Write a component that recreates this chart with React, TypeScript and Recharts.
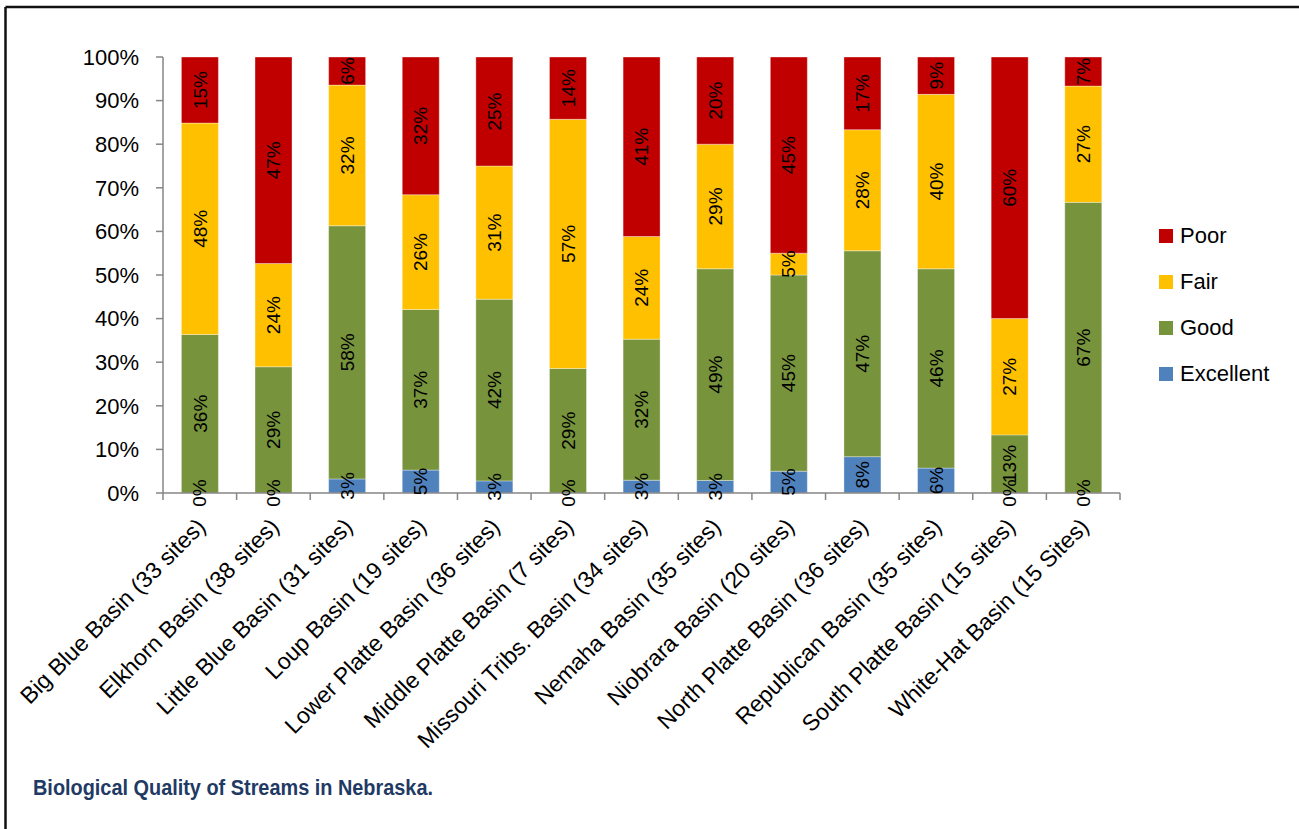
import React from 'react';
import { BarChart, Bar, XAxis, YAxis, Legend, LabelList } from 'recharts';

const categories = [
  'Big Blue Basin (33 sites)',
  'Elkhorn Basin (38 sites)',
  'Little Blue Basin (31 sites)',
  'Loup Basin (19 sites)',
  'Lower Platte Basin (36 sites)',
  'Middle Platte Basin (7 sites)',
  'Missouri Tribs. Basin (34 sites)',
  'Nemaha Basin (35 sites)',
  'Niobrara Basin (20 sites)',
  'North Platte Basin (36 sites)',
  'Republican Basin (35 sites)',
  'South Platte Basin (15 sites)',
  'White-Hat Basin (15 Sites)',
];

const excellent = [0, 0, 3.23, 5.26, 2.78, 0, 2.94, 2.86, 5, 8.33, 5.71, 0, 0];
const good = [36.36, 28.95, 58.06, 36.84, 41.67, 28.57, 32.35, 48.57, 45, 47.22, 45.71, 13.33, 66.67];
const fair = [48.48, 23.68, 32.26, 26.32, 30.56, 57.14, 23.53, 28.57, 5, 27.78, 40, 26.67, 26.67];
const poor = [15.15, 47.37, 6.45, 31.58, 25, 14.29, 41.18, 20, 45, 16.67, 8.57, 60, 6.67];

const yTicks = [0, 0.1, 0.2, 0.3, 0.4, 0.5, 0.6, 0.7, 0.8, 0.9, 1];

const seriesNames = ['Excellent', 'Good', 'Fair', 'Poor'];
const seriesValues: Record<string, number[]> = { Excellent: excellent, Good: good, Fair: fair, Poor: poor };
const seriesColors: Record<string, string> = {
  Excellent: '#4F81BD',
  Good: '#77933C',
  Fair: '#FFC000',
  Poor: '#C00000',
};
const legendOrder = ['Poor', 'Fair', 'Good', 'Excellent'];

const title = 'Biological Quality of Streams in Nebraska.';

const data = categories.map((c, i) => ({
  name: c,
  Excellent: excellent[i],
  Good: good[i],
  Fair: fair[i],
  Poor: poor[i],
}));

const FONT = '"Liberation Sans", Arial, sans-serif';
const W = 1299;
const H = 829;
const PLOT_LEFT = 163;
const PLOT_RIGHT = 1120;
const PLOT_TOP = 57;
const PLOT_BOTTOM = 493;
const BAND = (PLOT_RIGHT - PLOT_LEFT) / categories.length;
const AXIS_COLOR = '#868686';
const LABEL_SIZE = 19;

function ValueText({ cx, cy, v }: { cx: number; cy: number; v: number }) {
  return (
    <text
      x={cx}
      y={cy}
      dy="0.35em"
      transform={`rotate(-90, ${cx}, ${cy})`}
      textAnchor="middle"
      fontSize={LABEL_SIZE}
      fontFamily={FONT}
      fill="#000"
    >
      {Math.round(v)}%
    </text>
  );
}

function CategoryTick(props: any) {
  const { x, y, payload, index } = props;
  const tx = x + 7;
  const ty = y + 35;
  const zeroExcellent = excellent[index] === 0;
  return (
    <g>
      <line x1={x - BAND / 2} x2={x - BAND / 2} y1={y} y2={y + 7} stroke={AXIS_COLOR} strokeWidth={1.5} />
      {index === categories.length - 1 && (
        <line x1={x + BAND / 2} x2={x + BAND / 2} y1={y} y2={y + 7} stroke={AXIS_COLOR} strokeWidth={1.5} />
      )}
      {zeroExcellent && <ValueText cx={x} cy={y} v={excellent[index]} />}
      <text
        x={tx}
        y={ty}
        transform={`rotate(-45, ${tx}, ${ty})`}
        textAnchor="end"
        fontSize={23}
        fontFamily={FONT}
        fill="#000"
      >
        {payload.value}
      </text>
    </g>
  );
}

const makeLabel = (arr: number[]) => (props: any) => {
  const vb = props.viewBox && props.viewBox.width !== undefined ? props.viewBox : props;
  const { x, y, width, height } = vb;
  const cx = x + width / 2;
  const cy = y + height / 2;
  const idx = Math.max(0, Math.min(categories.length - 1, Math.floor((cx - PLOT_LEFT) / BAND)));
  const v = arr[idx];
  if (v === 0) return null;
  return <ValueText cx={cx} cy={cy} v={v} />;
};

const LegendContent = () => (
  <div style={{ fontFamily: FONT }}>
    {legendOrder.map((n) => (
      <div key={n} style={{ height: 46, display: 'flex', alignItems: 'center' }}>
        <span style={{ width: 14, height: 14, background: seriesColors[n], display: 'inline-block', marginRight: 7 }} />
        <span style={{ fontSize: 22, color: '#000' }}>{n}</span>
      </div>
    ))}
  </div>
);

export default function App() {
  return (
    <div style={{ position: 'absolute', left: 0, top: 0, width: W, height: H, overflow: 'hidden', background: '#fff' }}>
      <BarChart
        width={W}
        height={H}
        data={data}
        stackOffset="expand"
        barCategoryGap="25%"
        margin={{ top: PLOT_TOP, right: W - PLOT_RIGHT, bottom: 0, left: 0 }}
      >
        <XAxis
          dataKey="name"
          height={H - PLOT_BOTTOM}
          interval={0}
          tickLine={false}
          tickSize={0}
          tickMargin={0}
          axisLine={{ stroke: AXIS_COLOR, strokeWidth: 1.5 }}
          tick={<CategoryTick />}
        />
        <YAxis
          width={PLOT_LEFT}
          domain={[0, 1]}
          ticks={yTicks}
          interval={0}
          tickSize={7}
          tickMargin={17}
          tickLine={{ stroke: AXIS_COLOR, strokeWidth: 1.5 }}
          axisLine={{ stroke: AXIS_COLOR, strokeWidth: 1.5 }}
          tickFormatter={(v: number) => `${Math.round(v * 100)}%`}
          tick={{ fontSize: 22, fontFamily: FONT, fill: '#000' }}
        />
        <Legend
          layout="vertical"
          align="center"
          verticalAlign="middle"
          wrapperStyle={{ left: 1159, top: 213, width: 140 }}
          content={() => <LegendContent />}
        />
        {seriesNames.map((n) => (
          <Bar
            key={n}
            dataKey={n}
            stackId="a"
            fill={seriesColors[n]}
            stroke="rgba(255,255,255,0.35)"
            strokeWidth={1}
            isAnimationActive={false}
          >
            <LabelList dataKey={n} content={makeLabel(seriesValues[n])} />
          </Bar>
        ))}
      </BarChart>
      <svg
        width={W}
        height={H}
        style={{ position: 'absolute', left: 0, top: 0, pointerEvents: 'none' }}
      >
        <line x1={5.5} y1={7} x2={W} y2={7} stroke="#111" strokeWidth={2.5} />
        <line x1={5.5} y1={7} x2={5.5} y2={H} stroke="#111" strokeWidth={2.5} />
        <text
          x={33}
          y={795}
          fontSize={22}
          fontWeight="bold"
          fontFamily={FONT}
          fill="#1F3A64"
          textLength={400}
          lengthAdjust="spacingAndGlyphs"
        >
          {title}
        </text>
      </svg>
    </div>
  );
}
